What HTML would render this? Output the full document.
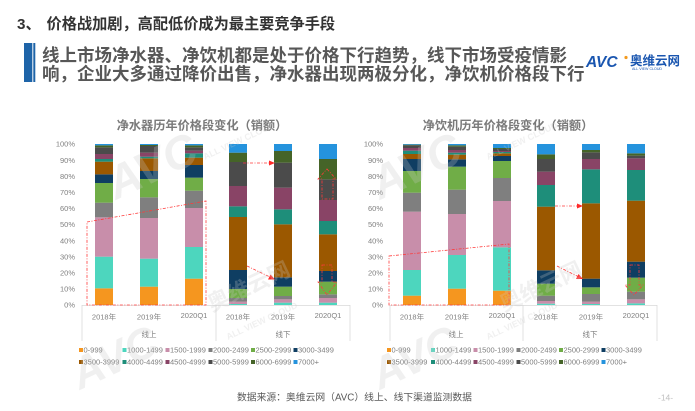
<!DOCTYPE html>
<html><head><meta charset="utf-8">
<style>
html,body{margin:0;padding:0;background:#fff;}
body{width:695px;height:411px;overflow:hidden;}
svg{display:block;}
text{font-family:"Liberation Sans","Noto Sans CJK SC",sans-serif;}
.c0{fill:#F5961F}.c1{fill:#4DD6BE}.c2{fill:#C88EAA}.c3{fill:#7F7F7F}
.c4{fill:#70AD47}.c5{fill:#0F3E62}.c6{fill:#9B5800}.c7{fill:#1E8E7A}
.c8{fill:#894466}.c9{fill:#4B4B4B}.c10{fill:#456428}.c11{fill:#2593DD}
.yl{font-size:7.5px;fill:#808080;text-anchor:end;}
.xl{font-size:7.5px;fill:#808080;text-anchor:middle;}
.lg{font-size:7.5px;fill:#7f7f7f;}
.red{fill:none;stroke:#ff3a3a;stroke-width:0.8;stroke-dasharray:3 1.5 1 1.5;}
.wm{fill:#c8c8c8;opacity:0.26;font-weight:bold;}
</style></head>
<body>
<svg width="695" height="411" viewBox="0 0 695 411" xmlns="http://www.w3.org/2000/svg">
<!-- Header -->
<text x="17" y="29" font-size="15.2" font-weight="bold" fill="#333">3、</text>
<text x="46.5" y="29" font-size="15.2" font-weight="bold" fill="#333">价格战加剧，高配低价成为最主要竞争手段</text>
<rect x="24" y="43" width="8.3" height="39" fill="#1E64A8"/>
<rect x="33.3" y="43" width="2" height="39" fill="#1E64A8"/>
<text x="42" y="61.7" font-size="17.5" font-weight="bold" fill="#575757">线上市场净水器、净饮机都是处于价格下行趋势，线下市场受疫情影</text>
<text x="42" y="79.8" font-size="17.5" font-weight="bold" fill="#575757">响，企业大多通过降价出售，净水器出现两极分化，净饮机价格段下行</text>
<!-- Logo -->
<text x="586" y="67" font-size="15.5" font-weight="bold" font-style="italic" fill="#1A56B0">AVC</text>
<circle cx="626" cy="57.5" r="1.6" fill="#F39A1E"/>
<text x="630" y="65" font-size="12.5" font-weight="bold" fill="#1A56B0">奥维云网</text>
<text x="632" y="70" font-size="3.6" fill="#1A56B0">ALL VIEW CLOUD</text>

<!-- Chart titles -->
<text x="202" y="129.5" font-size="12.2" font-weight="bold" fill="#7a7a7a" text-anchor="middle">净水器历年价格段变化（销额）</text>
<text x="508" y="129.5" font-size="12.2" font-weight="bold" fill="#7a7a7a" text-anchor="middle">净饮机历年价格段变化（销额）</text>

<!-- Y axis labels left -->
<g class="yl">
<text x="75" y="307.7">0%</text><text x="75" y="291.6">10%</text><text x="75" y="275.5">20%</text>
<text x="75" y="259.4">30%</text><text x="75" y="243.3">40%</text><text x="75" y="227.2">50%</text>
<text x="75" y="211.1">60%</text><text x="75" y="195">70%</text><text x="75" y="178.9">80%</text>
<text x="75" y="162.8">90%</text><text x="75" y="146.7">100%</text>
</g>
<g class="yl">
<text x="383" y="307.7">0%</text><text x="383" y="291.6">10%</text><text x="383" y="275.5">20%</text>
<text x="383" y="259.4">30%</text><text x="383" y="243.3">40%</text><text x="383" y="227.2">50%</text>
<text x="383" y="211.1">60%</text><text x="383" y="195">70%</text><text x="383" y="178.9">80%</text>
<text x="383" y="162.8">90%</text><text x="383" y="146.7">100%</text>
</g>

<!-- Bars -->
<g transform="translate(0,144) scale(1,0.333333)">
 <g transform="translate(95,0)">
  <rect class="c0" y="433" width="18" height="50"/><rect class="c1" y="338" width="18" height="95"/>
  <rect class="c2" y="220" width="18" height="118"/><rect class="c3" y="176" width="18" height="44"/>
  <rect class="c4" y="117" width="18" height="59"/><rect class="c5" y="91" width="18" height="26"/>
  <rect class="c6" y="53" width="18" height="38"/><rect class="c7" y="45" width="18" height="8"/>
  <rect class="c8" y="30" width="18" height="15"/><rect class="c9" y="10" width="18" height="20"/>
  <rect class="c10" y="4" width="18" height="6"/><rect class="c11" y="0" width="18" height="4"/>
 </g>
 <g transform="translate(140,0)">
  <rect class="c0" y="428" width="18" height="55"/><rect class="c1" y="344" width="18" height="84"/>
  <rect class="c2" y="222" width="18" height="122"/><rect class="c3" y="160" width="18" height="62"/>
  <rect class="c4" y="105" width="18" height="55"/><rect class="c5" y="81" width="18" height="24"/>
  <rect class="c6" y="43" width="18" height="38"/><rect class="c7" y="38" width="18" height="5"/>
  <rect class="c8" y="26" width="18" height="12"/><rect class="c9" y="6" width="18" height="20"/>
  <rect class="c10" y="3" width="18" height="3"/><rect class="c11" y="0" width="18" height="3"/>
 </g>
 <g transform="translate(185,0)">
  <rect class="c0" y="404" width="18" height="79"/><rect class="c1" y="309" width="18" height="95"/>
  <rect class="c2" y="192" width="18" height="117"/><rect class="c3" y="140" width="18" height="52"/>
  <rect class="c4" y="101" width="18" height="39"/><rect class="c5" y="63" width="18" height="38"/>
  <rect class="c6" y="41" width="18" height="22"/><rect class="c7" y="28" width="18" height="13"/>
  <rect class="c8" y="20" width="18" height="8"/><rect class="c9" y="10" width="18" height="10"/>
  <rect class="c10" y="4" width="18" height="6"/><rect class="c11" y="0" width="18" height="4"/>
 </g>
 <g transform="translate(229,0)">
  <rect class="c1" y="480" width="18" height="3"/><rect class="c2" y="473" width="18" height="7"/>
  <rect class="c3" y="462" width="18" height="11"/><rect class="c4" y="435" width="18" height="27"/>
  <rect class="c5" y="378" width="18" height="57"/><rect class="c6" y="219" width="18" height="159"/>
  <rect class="c7" y="187" width="18" height="32"/><rect class="c8" y="126" width="18" height="61"/>
  <rect class="c9" y="54" width="18" height="72"/><rect class="c10" y="26" width="18" height="28"/>
  <rect class="c11" y="0" width="18" height="26"/>
 </g>
 <g transform="translate(274,0)">
  <rect class="c1" y="476" width="18" height="7"/><rect class="c2" y="466" width="18" height="10"/>
  <rect class="c3" y="456" width="18" height="10"/><rect class="c4" y="428" width="18" height="28"/>
  <rect class="c5" y="400" width="18" height="28"/><rect class="c6" y="241" width="18" height="159"/>
  <rect class="c7" y="196" width="18" height="45"/><rect class="c8" y="131" width="18" height="65"/>
  <rect class="c9" y="56" width="18" height="75"/><rect class="c10" y="21" width="18" height="35"/>
  <rect class="c11" y="0" width="18" height="21"/>
 </g>
 <g transform="translate(319,0)">
  <rect class="c1" y="476" width="18" height="7"/><rect class="c2" y="462" width="18" height="14"/>
  <rect class="c3" y="451" width="18" height="11"/><rect class="c4" y="413" width="18" height="38"/>
  <rect class="c5" y="381" width="18" height="32"/><rect class="c6" y="271" width="18" height="110"/>
  <rect class="c7" y="231" width="18" height="40"/><rect class="c8" y="168" width="18" height="63"/>
  <rect class="c9" y="106" width="18" height="62"/><rect class="c10" y="45" width="18" height="61"/>
  <rect class="c11" y="0" width="18" height="45"/>
 </g>
 <!-- Right chart -->
 <g transform="translate(403,0)">
  <rect class="c0" y="455" width="18" height="28"/><rect class="c1" y="378" width="18" height="77"/>
  <rect class="c2" y="203" width="18" height="175"/><rect class="c3" y="146" width="18" height="57"/>
  <rect class="c4" y="81" width="18" height="65"/><rect class="c5" y="45" width="18" height="36"/>
  <rect class="c6" y="30" width="18" height="15"/><rect class="c7" y="20" width="18" height="10"/>
  <rect class="c8" y="12" width="18" height="8"/><rect class="c9" y="4" width="18" height="8"/>
  <rect class="c10" y="2" width="18" height="2"/><rect class="c11" y="0" width="18" height="2"/>
 </g>
 <g transform="translate(448,0)">
  <rect class="c0" y="434" width="18" height="49"/><rect class="c1" y="333" width="18" height="101"/>
  <rect class="c2" y="210" width="18" height="123"/><rect class="c3" y="137" width="18" height="73"/>
  <rect class="c4" y="68" width="18" height="69"/><rect class="c5" y="46" width="18" height="22"/>
  <rect class="c6" y="32" width="18" height="14"/><rect class="c7" y="26" width="18" height="6"/>
  <rect class="c8" y="18" width="18" height="8"/><rect class="c9" y="8" width="18" height="10"/>
  <rect class="c10" y="4" width="18" height="4"/><rect class="c11" y="0" width="18" height="4"/>
 </g>
 <g transform="translate(493,0)">
  <rect class="c0" y="440" width="18" height="43"/><rect class="c1" y="310" width="18" height="130"/>
  <rect class="c2" y="171" width="18" height="139"/><rect class="c3" y="102" width="18" height="69"/>
  <rect class="c4" y="51" width="18" height="51"/><rect class="c5" y="36" width="18" height="15"/>
  <rect class="c6" y="28" width="18" height="8"/><rect class="c7" y="24" width="18" height="4"/>
  <rect class="c8" y="21" width="18" height="3"/><rect class="c9" y="15" width="18" height="6"/>
  <rect class="c10" y="12" width="18" height="3"/><rect class="c11" y="0" width="18" height="12"/>
 </g>
 <g transform="translate(537,0)">
  <rect class="c1" y="479" width="18" height="4"/><rect class="c2" y="471" width="18" height="8"/>
  <rect class="c3" y="455" width="18" height="16"/><rect class="c4" y="419" width="18" height="36"/>
  <rect class="c5" y="379" width="18" height="40"/><rect class="c6" y="188" width="18" height="191"/>
  <rect class="c7" y="123" width="18" height="65"/><rect class="c8" y="83" width="18" height="40"/>
  <rect class="c9" y="45" width="18" height="38"/><rect class="c10" y="31" width="18" height="14"/>
  <rect class="c11" y="0" width="18" height="31"/>
 </g>
 <g transform="translate(582,0)">
  <rect class="c1" y="480" width="18" height="3"/><rect class="c2" y="473" width="18" height="7"/>
  <rect class="c3" y="450" width="18" height="23"/><rect class="c4" y="430" width="18" height="20"/>
  <rect class="c5" y="404" width="18" height="26"/><rect class="c6" y="178" width="18" height="226"/>
  <rect class="c7" y="76" width="18" height="102"/><rect class="c8" y="45" width="18" height="31"/>
  <rect class="c9" y="25" width="18" height="20"/><rect class="c10" y="18" width="18" height="7"/>
  <rect class="c11" y="0" width="18" height="18"/>
 </g>
 <g transform="translate(627,0)">
  <rect class="c1" y="478" width="18" height="5"/><rect class="c2" y="466" width="18" height="12"/>
  <rect class="c3" y="443" width="18" height="23"/><rect class="c4" y="401" width="18" height="42"/>
  <rect class="c5" y="353" width="18" height="48"/><rect class="c6" y="170" width="18" height="183"/>
  <rect class="c7" y="78" width="18" height="92"/><rect class="c8" y="43" width="18" height="35"/>
  <rect class="c9" y="35" width="18" height="8"/><rect class="c10" y="28" width="18" height="7"/>
  <rect class="c11" y="0" width="18" height="28"/>
 </g>
</g>

<!-- Axes -->
<g stroke="#d9d9d9" stroke-width="0.8" fill="none">
 <line x1="82" y1="305.4" x2="350" y2="305.4"/>
 <line x1="82" y1="305" x2="82" y2="341"/><line x1="216" y1="305" x2="216" y2="341"/><line x1="350" y1="305" x2="350" y2="341"/>
 <line x1="390" y1="305.4" x2="657" y2="305.4"/>
 <line x1="390" y1="305" x2="390" y2="341"/><line x1="523" y1="305" x2="523" y2="341"/><line x1="657" y1="305" x2="657" y2="341"/>
</g>
<g class="xl">
 <text x="104" y="319.7">2018年</text><text x="149" y="319.7">2019年</text><text x="194" y="318.2">2020Q1</text>
 <text x="238" y="319.7">2018年</text><text x="283" y="319.7">2019年</text><text x="328" y="318.2">2020Q1</text>
 <text x="149" y="337">线上</text><text x="283" y="337">线下</text>
 <text x="412" y="319.7">2018年</text><text x="457" y="319.7">2019年</text><text x="502" y="318.2">2020Q1</text>
 <text x="546" y="319.7">2018年</text><text x="591" y="319.7">2019年</text><text x="636" y="318.2">2020Q1</text>
 <text x="456" y="337">线上</text><text x="590" y="337">线下</text>
</g>

<!-- Red annotations left -->
<polygon class="red" points="87,222 206,201 206,305 87,305"/>
<line class="red" x1="243" y1="163" x2="270" y2="163"/>
<polygon points="275,163 269,160.5 269,165.5" fill="#ff2a2a"/>
<line class="red" x1="247" y1="266" x2="270" y2="277"/>
<polygon points="275,279.5 268,279.5 270.5,274.5" fill="#ff2a2a"/>
<polygon class="red" points="327,169 336,179 333,179 333,199 322,199 322,179 318,179"/>
<polygon class="red" points="322,265 332,265 332,282 337,282 327,295 318,282 322,282"/>
<!-- Red annotations right -->
<polygon class="red" points="389,256 509,244 509,305 389,305"/>
<line class="red" x1="555" y1="206" x2="578" y2="206"/>
<polygon points="583,206 577,203.5 577,208.5" fill="#ff2a2a"/>
<line class="red" x1="557" y1="266" x2="578" y2="276.5"/>
<polygon points="583,279 576,279 578.5,274" fill="#ff2a2a"/>
<polygon class="red" points="630,265 639,265 639,285 643,285 634,295 625,285 630,285"/>

<!-- Legends -->
<g>
 <rect class="c0" x="79" y="348" width="4" height="4"/><text class="lg" x="83.5" y="352.7">0-999</text>
 <rect class="c1" x="122.5" y="348" width="4" height="4"/><text class="lg" x="127" y="352.7">1000-1499</text>
 <rect class="c2" x="165.5" y="348" width="4" height="4"/><text class="lg" x="170" y="352.7">1500-1999</text>
 <rect class="c3" x="208.5" y="348" width="4" height="4"/><text class="lg" x="213" y="352.7">2000-2499</text>
 <rect class="c4" x="251" y="348" width="4" height="4"/><text class="lg" x="255.5" y="352.7">2500-2999</text>
 <rect class="c5" x="293.5" y="348" width="4" height="4"/><text class="lg" x="298" y="352.7">3000-3499</text>
 <rect class="c6" x="79" y="360" width="4" height="4"/><text class="lg" x="83.5" y="364.7">3500-3999</text>
 <rect class="c7" x="122.5" y="360" width="4" height="4"/><text class="lg" x="127" y="364.7">4000-4499</text>
 <rect class="c8" x="165.5" y="360" width="4" height="4"/><text class="lg" x="170" y="364.7">4500-4999</text>
 <rect class="c9" x="208.5" y="360" width="4" height="4"/><text class="lg" x="213" y="364.7">5000-5999</text>
 <rect class="c10" x="251" y="360" width="4" height="4"/><text class="lg" x="255.5" y="364.7">6000-6999</text>
 <rect class="c11" x="293.5" y="360" width="4" height="4"/><text class="lg" x="298" y="364.7">7000+</text>
</g>
<g>
 <rect class="c0" x="387" y="348" width="4" height="4"/><text class="lg" x="391.5" y="352.7">0-999</text>
 <rect class="c1" x="431" y="348" width="4" height="4"/><text class="lg" x="435.5" y="352.7">1000-1499</text>
 <rect class="c2" x="473.5" y="348" width="4" height="4"/><text class="lg" x="478" y="352.7">1500-1999</text>
 <rect class="c3" x="516.5" y="348" width="4" height="4"/><text class="lg" x="521" y="352.7">2000-2499</text>
 <rect class="c4" x="559" y="348" width="4" height="4"/><text class="lg" x="563.5" y="352.7">2500-2999</text>
 <rect class="c5" x="601.5" y="348" width="4" height="4"/><text class="lg" x="606" y="352.7">3000-3499</text>
 <rect class="c6" x="387" y="360" width="4" height="4"/><text class="lg" x="391.5" y="364.7">3500-3999</text>
 <rect class="c7" x="431" y="360" width="4" height="4"/><text class="lg" x="435.5" y="364.7">4000-4499</text>
 <rect class="c8" x="473.5" y="360" width="4" height="4"/><text class="lg" x="478" y="364.7">4500-4999</text>
 <rect class="c9" x="516.5" y="360" width="4" height="4"/><text class="lg" x="521" y="364.7">5000-5999</text>
 <rect class="c10" x="559" y="360" width="4" height="4"/><text class="lg" x="563.5" y="364.7">6000-6999</text>
 <rect class="c11" x="601.5" y="360" width="4" height="4"/><text class="lg" x="606" y="364.7">7000+</text>
</g>

<!-- Footer -->
<text x="237" y="400.6" font-size="9.8" fill="#595959">数据来源：奥维云网（AVC）线上、线下渠道监测数据</text>
<text x="658" y="400.5" font-size="8.5" fill="#bfbfbf">-14-</text>

<!-- Watermarks -->
<g class="wm">
 <text transform="translate(116,200) rotate(-25)" font-size="46" font-style="italic">AVC</text>
 <text transform="translate(205,160) rotate(-25)" font-size="9">ALL VIEW CLOUD</text>
 <text transform="translate(212,312) rotate(-25)" font-size="22">奥维云网</text>
 <text transform="translate(80,390) rotate(-25)" font-size="44" font-style="italic">AVC</text>
 <text transform="translate(228,340) rotate(-25)" font-size="9">ALL VIEW CLOUD</text>
 <text transform="translate(380,200) rotate(-25)" font-size="46" font-style="italic">AVC</text>
 <text transform="translate(488,160) rotate(-25)" font-size="9">ALL VIEW CLOUD</text>
 <text transform="translate(504,312) rotate(-25)" font-size="22">奥维云网</text>
 <text transform="translate(380,390) rotate(-25)" font-size="44" font-style="italic">AVC</text>
 <text transform="translate(488,340) rotate(-25)" font-size="9">ALL VIEW CLOUD</text>
</g>
</svg>
</body></html>
